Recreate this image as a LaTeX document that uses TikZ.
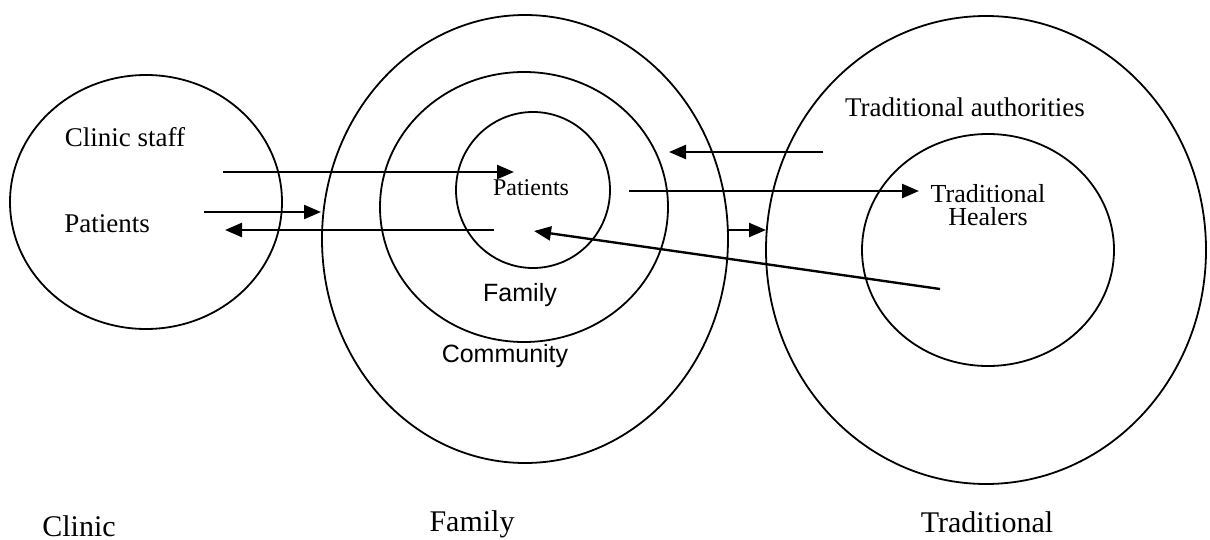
\documentclass[tikz,border=0pt]{standalone}
\usepackage{fontspec}
\setmainfont{Liberation Serif}
\setsansfont{Liberation Sans}
\usetikzlibrary{arrows.meta}
\tikzset{
  ring/.style={line width=0.9pt},
  flow/.style={line width=1.2pt,-{Triangle[length=8.5pt,width=7pt]}},
  lbl/.style={inner sep=0pt,font=\fontsize{13.5}{15}\selectfont},
  sanslbl/.style={inner sep=0pt,font=\sffamily\fontsize{12.5}{14}\selectfont},
  title/.style={inner sep=0pt,font=\fontsize{15}{17}\selectfont}
}
\begin{document}
\begin{tikzpicture}[x=0.5pt,y=-0.5pt]
\useasboundingbox (0,0) rectangle (1210,540);
% rings: clinic, family (3), traditional (2)
\foreach \cx/\cy/\rx/\ry in {146/202/136/127, 525/239/203/224, 524/207/144/135,
  533/190/77/78, 986/250/220/234, 988/250/126/116}
\draw[ring] (\cx,\cy) ellipse [x radius=\rx, y radius=\ry];
% labels
\node[lbl] (staff) at (125,137) {Clinic staff};
\node[lbl] (clinpat) at (107,224) {Patients};
\node[lbl,font=\fontsize{12}{14}\selectfont] (fampat) at (531,188) {Patients};
\node[sanslbl,anchor=base] (famring) at (520,301) {Family};
\node[sanslbl,anchor=base] (comm) at (505,362) {Community};
\node[lbl,anchor=base] (auth) at (965,117) {Traditional authorities};
\node[lbl,align=center,font=\fontsize{13}{11.5}\selectfont] (heal) at (988,205) {Traditional\\Healers};
\node[title,anchor=base] (clinic) at (79,536) {Clinic};
\node[title,anchor=base] (family) at (472,531) {Family};
\node[title,anchor=base] (trad) at (987,532) {Traditional};
% arrow ends
\coordinate (staffout) at (223,172);
\coordinate (patin) at (514,172);
\coordinate (clinout) at (204,212);
\coordinate (famedge) at (321,212);
\coordinate (famout) at (494,230);
\coordinate (clinin) at (225,230);
\coordinate (authout) at (823,152);
\coordinate (midin) at (669,152);
\coordinate (patout) at (629,191);
\coordinate (healin) at (919,191);
\coordinate (commedge) at (728,230);
\coordinate (tradedge) at (766,230);
\coordinate (healout) at (940,289);
\coordinate (patback) at (534,231);
\draw[flow] (staffout) -- (patin);
\draw[flow] (clinout) -- (famedge);
\draw[flow] (famout) -- (clinin);
\draw[flow] (authout) -- (midin);
\draw[flow] (patout) -- (healin);
\draw[flow] (commedge) -- (tradedge);
\draw[flow] (healout) -- (patback);
\end{tikzpicture}
\end{document}
